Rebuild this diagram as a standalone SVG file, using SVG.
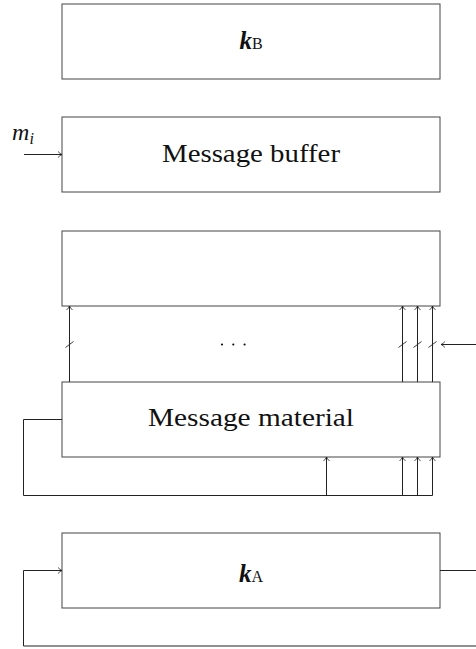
<svg xmlns="http://www.w3.org/2000/svg" width="476" height="649" viewBox="0 0 476 649">
<defs>
<marker id="ah" viewBox="0 0 8 8" refX="7.5" refY="4" markerWidth="8" markerHeight="8" markerUnits="userSpaceOnUse" orient="auto">
<path d="M3.5,1 Q5.5,3.2 7.5,4 Q5.5,4.8 3.5,7" fill="none" stroke="#222" stroke-width="0.8"/>
</marker>
</defs>
<style>
.box{fill:#fff;stroke:#444;stroke-width:1}
.ln{fill:none;stroke:#222;stroke-width:1}
.ar{fill:none;stroke:#222;stroke-width:1;marker-end:url(#ah)}
.sl{stroke:#222;stroke-width:0.9}
.t{font-family:"Liberation Serif","DejaVu Serif",serif;fill:#111;text-anchor:middle}
</style>
<g id="kB">
<rect class="box" x="62" y="4" width="378" height="75"/>
<text class="t" x="251" y="49" font-size="25"><tspan font-weight="bold" font-style="italic">k</tspan><tspan font-size="16">B</tspan></text>
</g>
<g id="buffer">
<rect class="box" x="62" y="117" width="378" height="75"/>
<text class="t" x="251" y="162" font-size="25" textLength="178" lengthAdjust="spacingAndGlyphs">Message buffer</text>
</g>
<g id="mi">
<text class="t" x="23" y="140" font-size="24" font-style="italic" style="text-anchor:middle">m<tspan font-size="16" dy="4">i</tspan></text>
</g>
<g id="box3">
<rect class="box" x="62" y="231" width="378" height="75"/>
</g>
<g id="material">
<rect class="box" x="62" y="382" width="378" height="75"/>
<text class="t" x="251" y="426" font-size="25" textLength="206" lengthAdjust="spacingAndGlyphs">Message material</text>
</g>
<g id="kA">
<rect class="box" x="62" y="533" width="378" height="75"/>
<text class="t" x="251" y="582" font-size="25"><tspan font-weight="bold" font-style="italic">k</tspan><tspan font-size="16">A</tspan></text>
</g>
<g id="dots" fill="#111">
<circle cx="222" cy="344.5" r="1.1"/>
<circle cx="233.3" cy="344.5" r="1.1"/>
<circle cx="244.6" cy="344.5" r="1.1"/>
</g>
<g id="connectors">
<line class="ar" x1="24" y1="154.5" x2="62" y2="154.5"/>
<line class="ar" x1="69.5" y1="382" x2="69.5" y2="306"/>
<line class="ar" x1="402.5" y1="382" x2="402.5" y2="306"/>
<line class="ar" x1="417.5" y1="382" x2="417.5" y2="306"/>
<line class="ar" x1="432.5" y1="382" x2="432.5" y2="306"/>
<line class="sl" x1="65.5" y1="347.5" x2="73.5" y2="341.5"/>
<line class="sl" x1="398.5" y1="347.5" x2="406.5" y2="341.5"/>
<line class="sl" x1="413.5" y1="347.5" x2="421.5" y2="341.5"/>
<line class="sl" x1="428.5" y1="347.5" x2="436.5" y2="341.5"/>
<line class="ar" x1="476" y1="344.5" x2="441" y2="344.5"/>
<polyline class="ln" points="62,419.5 23.5,419.5 23.5,495.5 432.5,495.5"/>
<line class="ar" x1="326.5" y1="495.5" x2="326.5" y2="457"/>
<line class="ar" x1="402.5" y1="495.5" x2="402.5" y2="457"/>
<line class="ar" x1="417.5" y1="495.5" x2="417.5" y2="457"/>
<line class="ar" x1="432.5" y1="495.5" x2="432.5" y2="457"/>
<line class="ln" x1="440" y1="570.5" x2="476" y2="570.5"/>
<polyline class="ar" points="476,646 23.5,646 23.5,570.5 62,570.5"/>
</g>
</svg>
